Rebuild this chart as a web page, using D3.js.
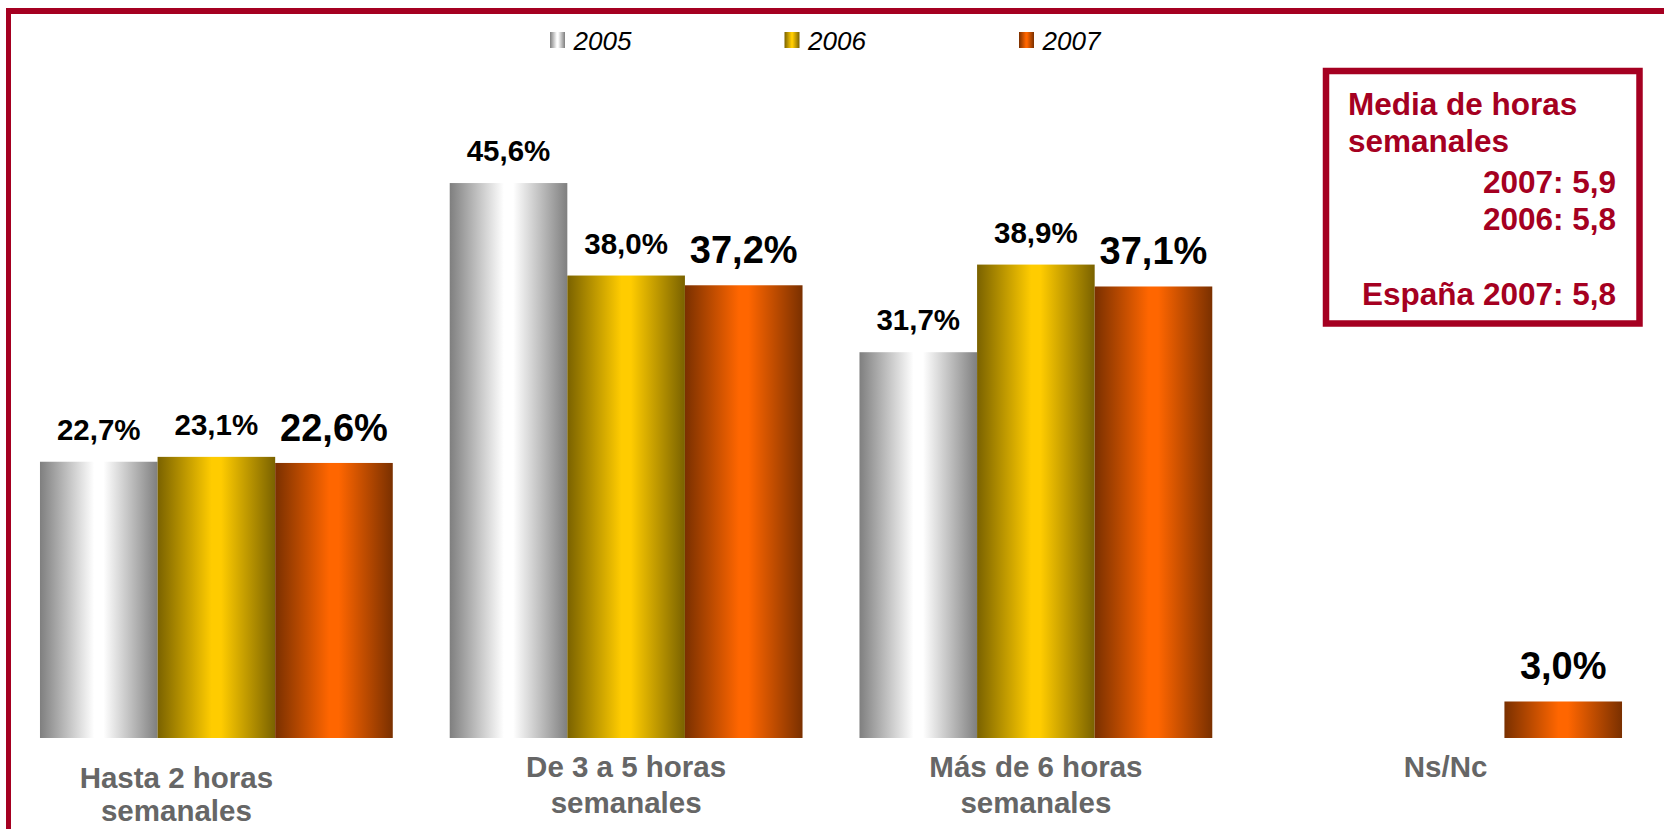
<!DOCTYPE html>
<html>
<head>
<meta charset="utf-8">
<script src="https://cdn.jsdelivr.net/npm/d3@7"></script>
<style>
  html, body { margin: 0; padding: 0; background: #fff; }
  svg { display: block; font-family: "Liberation Sans", Arial, sans-serif; }
</style>
</head>
<body>
<svg id="chart" width="1664" height="829"></svg>
<script>
// chart data
var categories = ["Hasta 2 horas semanales", "De 3 a 5 horas semanales", "Más de 6 horas semanales", "Ns/Nc"];
var categoryLines = [["Hasta 2 horas", "semanales"], ["De 3 a 5 horas", "semanales"], ["Más de 6 horas", "semanales"], ["Ns/Nc"]];
var years = ["2005", "2006", "2007"];
var values2005 = [22.7, 45.6, 31.7, null];
var values2006 = [23.1, 38.0, 38.9, null];
var values2007 = [22.6, 37.2, 37.1, 3.0];
var boxTitle = ["Media de horas", "semanales"];
var boxYears = ["2007: 5,9", "2006: 5,8"];
var boxSpain = "España 2007: 5,8";

var red = "#a50021";
var series = [values2005, values2006, values2007];

var svg = d3.select("#chart");

// gradients for the "cylinder" look
var defs = svg.append("defs");
var grads = [
    { id: "g2005", edge: "#7f7f7f", mid: "#ffffff" },
    { id: "g2006", edge: "#7a6200", mid: "#ffcc00" },
    { id: "g2007", edge: "#7a3000", mid: "#ff6600" }
];
grads.forEach(function (g) {
    var lg = defs.append("linearGradient").attr("id", g.id)
        .attr("x1", "0%").attr("x2", "100%").attr("y1", "0%").attr("y2", "0%");
    lg.append("stop").attr("offset", "0%").attr("stop-color", g.edge);
    lg.append("stop").attr("offset", "46%").attr("stop-color", g.mid);
    lg.append("stop").attr("offset", "54%").attr("stop-color", g.mid);
    lg.append("stop").attr("offset", "100%").attr("stop-color", g.edge);
});

// outer frame (top and left edges)
svg.append("rect").attr("x", 6).attr("y", 8).attr("width", 1658).attr("height", 6).attr("fill", red);
svg.append("rect").attr("x", 6).attr("y", 8).attr("width", 5).attr("height", 821).attr("fill", red);

var x = d3.scaleBand()
    .domain(categories)
    .range([11.5, 1650.5])
    .paddingInner(0.139)
    .paddingOuter(0.0695);

var x1 = d3.scaleBand()
    .domain(years)
    .range([0, x.bandwidth()]);

var y = d3.scaleLinear()
    .domain([0, 50])
    .range([738, 129.5]);

var fmt = function (v) { return d3.format(".1f")(v).replace(".", ",") + "%"; };

// flatten into bar records
var bars = [];
categories.forEach(function (c, i) {
    years.forEach(function (yr, j) {
        var v = series[j][i];
        if (v != null) bars.push({ cat: c, year: yr, value: v, j: j });
    });
});

svg.selectAll("rect.bar")
    .data(bars)
    .enter().append("rect")
    .attr("class", "bar")
    .attr("x", function (d) { return x(d.cat) + x1(d.year); })
    .attr("y", function (d) { return y(d.value); })
    .attr("width", x1.bandwidth())
    .attr("height", function (d) { return y(0) - y(d.value); })
    .attr("fill", function (d) { return "url(#g" + d.year + ")"; });

svg.selectAll("text.val")
    .data(bars)
    .enter().append("text")
    .attr("class", "val")
    .attr("x", function (d) { return x(d.cat) + x1(d.year) + x1.bandwidth() / 2; })
    .attr("y", function (d) { return y(d.value) - 22; })
    .attr("text-anchor", "middle")
    .attr("font-weight", "bold")
    .attr("font-size", function (d) { return d.year === "2007" ? 38 : 29.5; })
    .attr("fill", "#000")
    .text(function (d) { return fmt(d.value); });

// category labels (the first one sits a bit lower and to the left in the original)
var catG = svg.selectAll("text.cat")
    .data(categories)
    .enter().append("text")
    .attr("class", "cat")
    .attr("text-anchor", "middle")
    .attr("font-weight", "bold")
    .attr("font-size", 29.5)
    .attr("fill", "#666666")
    .attr("transform", function (d, i) {
        var cx = x(d) + x.bandwidth() / 2 + (i === 0 ? -40 : 0);
        var cy = i === 0 ? 788 : 777;
        return "translate(" + cx + "," + cy + ")";
    });

catG.selectAll("tspan")
    .data(function (d, i) { return categoryLines[i].map(function (t) { return { t: t, first: i === 0 }; }); })
    .enter().append("tspan")
    .attr("x", 0)
    .attr("y", function (d, k) { return k * (d.first ? 33 : 36); })
    .text(function (d) { return d.t; });

// legend
var legend = svg.selectAll("g.legend")
    .data(years)
    .enter().append("g")
    .attr("class", "legend")
    .attr("transform", function (d, i) { return "translate(" + (550 + i * 234.5) + ",0)"; });

legend.append("rect")
    .attr("x", 0).attr("y", 32)
    .attr("width", 15).attr("height", 16)
    .attr("fill", function (d) { return "url(#g" + d + ")"; });

legend.append("text")
    .attr("x", 23.5).attr("y", 50)
    .attr("font-size", 26)
    .attr("font-style", "italic")
    .attr("fill", "#000")
    .text(function (d) { return d; });

// info box
svg.append("rect")
    .attr("x", 1326).attr("y", 71)
    .attr("width", 313.5).attr("height", 252.5)
    .attr("fill", "#fff")
    .attr("stroke", red)
    .attr("stroke-width", 6.5);

var box = svg.append("g")
    .attr("font-weight", "bold")
    .attr("font-size", 31.5)
    .attr("fill", red);

box.selectAll("text.title")
    .data(boxTitle)
    .enter().append("text")
    .attr("class", "title")
    .attr("x", 1348)
    .attr("y", function (d, i) { return 115 + i * 37; })
    .text(function (d) { return d; });

box.selectAll("text.yr")
    .data(boxYears)
    .enter().append("text")
    .attr("class", "yr")
    .attr("x", 1616)
    .attr("y", function (d, i) { return 193 + i * 37; })
    .attr("text-anchor", "end")
    .text(function (d) { return d; });

box.append("text")
    .attr("x", 1616).attr("y", 305)
    .attr("text-anchor", "end")
    .text(boxSpain);
</script>
</body>
</html>
